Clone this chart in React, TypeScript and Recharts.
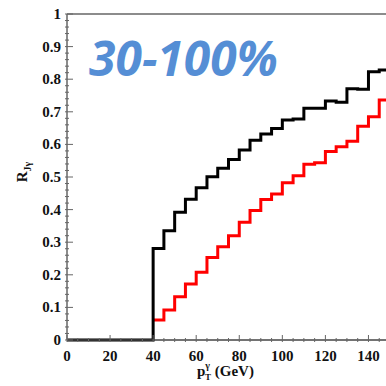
import React from 'react';
import { LineChart, Line, XAxis, YAxis, ReferenceLine } from 'recharts';

// bin lower edges, 5 GeV bins (last entry closes the final bin)
const binEdges = [0, 5, 10, 15, 20, 25, 30, 35, 40, 45, 50, 55, 60, 65, 70, 75, 80, 85, 90, 95, 100, 105, 110, 115, 120, 125, 130, 135, 140, 145, 150];

// black histogram
const blackValues = [0, 0, 0, 0, 0, 0, 0, 0, 0.281, 0.335, 0.392, 0.432, 0.467, 0.501, 0.527, 0.554, 0.583, 0.613, 0.632, 0.649, 0.675, 0.678, 0.711, 0.711, 0.733, 0.729, 0.771, 0.769, 0.823, 0.828];

// red histogram (starts at 40 GeV)
const redValues = [null, null, null, null, null, null, null, null, 0.061, 0.092, 0.133, 0.172, 0.208, 0.253, 0.286, 0.32, 0.361, 0.397, 0.431, 0.448, 0.482, 0.504, 0.539, 0.544, 0.578, 0.593, 0.61, 0.656, 0.685, 0.736];

const xMajorTicks = [0, 20, 40, 60, 80, 100, 120, 140];
const xAllTicks = [0, 5, 10, 15, 20, 25, 30, 35, 40, 45, 50, 55, 60, 65, 70, 75, 80, 85, 90, 95, 100, 105, 110, 115, 120, 125, 130, 135, 140, 145];
const yMajorTicks = [0, 0.1, 0.2, 0.3, 0.4, 0.5, 0.6, 0.7, 0.8, 0.9, 1];
const yMajorLabels = ['0', '0.1', '0.2', '0.3', '0.4', '0.5', '0.6', '0.7', '0.8', '0.9', '1'];
const yAllTicks = [0, 0.02, 0.04, 0.06, 0.08, 0.1, 0.12, 0.14, 0.16, 0.18, 0.2, 0.22, 0.24, 0.26, 0.28, 0.3, 0.32, 0.34, 0.36, 0.38, 0.4, 0.42, 0.44, 0.46, 0.48, 0.5, 0.52, 0.54, 0.56, 0.58, 0.6, 0.62, 0.64, 0.66, 0.68, 0.7, 0.72, 0.74, 0.76, 0.78, 0.8, 0.82, 0.84, 0.86, 0.88, 0.9, 0.92, 0.94, 0.96, 0.98, 1];

const data = binEdges.map((x, i) => {
    const j = Math.min(i, blackValues.length - 1);
    return { x, black: blackValues[j], red: redValues[j] };
});

const tickFont = '"Liberation Serif", "DejaVu Serif", serif';

const XTick = (props: any) => {
    const { x, y, payload } = props;
    const v = payload.value;
    const major = xMajorTicks.includes(v);
    return (
        <g>
            <line x1={x} x2={x} y1={y} y2={y - (major ? 7 : 4)} stroke="#666" strokeWidth={1} />
            {major && (
                <text x={x} y={y + 19} textAnchor="middle" fontFamily={tickFont} fontWeight="bold" fontSize={15} fill="#111">
                    {v}
                </text>
            )}
        </g>
    );
};

const YTick = (props: any) => {
    const { x, y, payload } = props;
    const v = payload.value;
    const idx = yMajorTicks.findIndex((m) => Math.abs(m - v) < 1e-6);
    const major = idx >= 0;
    return (
        <g>
            <line x1={x} x2={x + (major ? 8 : 4)} y1={y} y2={y} stroke="#666" strokeWidth={1} />
            {major && (
                <text x={x - 4} y={y + 5} textAnchor="end" fontFamily={tickFont} fontWeight="bold" fontSize={15} fill="#111">
                    {yMajorLabels[idx]}
                </text>
            )}
        </g>
    );
};

export default function App() {
    return (
        <div style={{ position: 'absolute', left: 0, top: 0, width: 386, height: 386, overflow: 'hidden', background: '#fff' }}>
            <LineChart width={400} height={386} data={data} margin={{ top: 14, right: 10, left: 0, bottom: 0 }}>
                <XAxis
                    dataKey="x"
                    type="number"
                    domain={[0, 150]}
                    ticks={xAllTicks}
                    interval={0}
                    tick={<XTick />}
                    tickLine={false}
                    tickSize={0}
                    height={46}
                    axisLine={{ stroke: '#444', strokeWidth: 1.5 }}
                />
                <YAxis
                    type="number"
                    domain={[0, 1]}
                    ticks={yAllTicks}
                    interval={0}
                    tick={<YTick />}
                    tickLine={false}
                    tickSize={0}
                    width={67}
                    axisLine={{ stroke: '#666', strokeWidth: 1.5 }}
                />
                <ReferenceLine y={1} stroke="#666" strokeWidth={1.5} />
                <Line type="stepAfter" dataKey="red" stroke="#ff0000" strokeWidth={3} dot={false} isAnimationActive={false} connectNulls={false} />
                <Line type="stepAfter" dataKey="black" stroke="#000" strokeWidth={3} dot={false} isAnimationActive={false} />
                <text x={89} y={76} fontFamily='"Open Sans", sans-serif' fontStyle="italic" fontWeight="bold" fontSize={48} fill="#558ed5">
                    30-100%
                </text>
                <text transform="translate(27,172) rotate(-90)" textAnchor="middle" fontFamily={tickFont} fontWeight="bold" fontSize={15} fill="#111">
                    R<tspan fontSize={10} dy={4}>Jγ</tspan>
                </text>
                <text x={197} y={376} fontFamily={tickFont} fontWeight="bold" fontSize={15} fill="#111">
                    p<tspan fontSize={10} dy={-7}>γ</tspan><tspan fontSize={9} dx={-5} dy={11}>T</tspan><tspan dy={-4}> (GeV)</tspan>
                </text>
            </LineChart>
        </div>
    );
}
